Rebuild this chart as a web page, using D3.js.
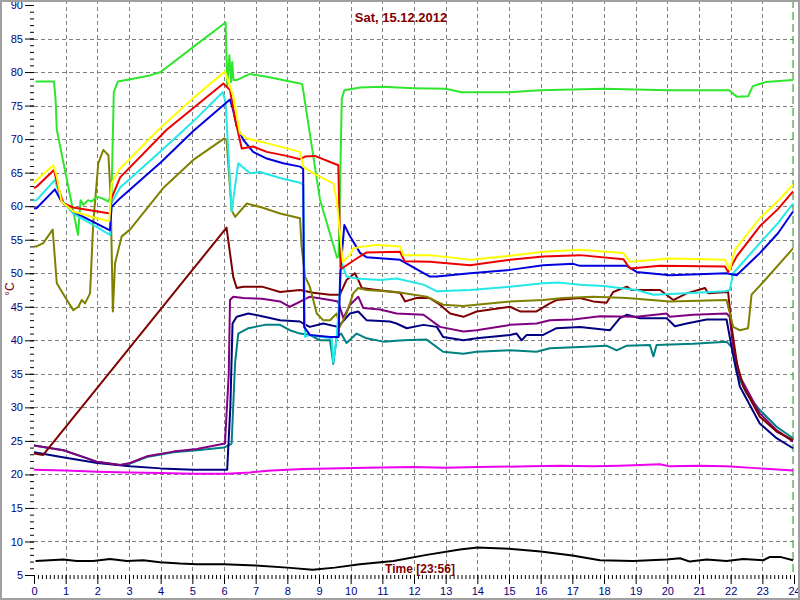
<!DOCTYPE html>
<html><head><meta charset="utf-8">
<script src="https://cdn.jsdelivr.net/npm/d3@7/dist/d3.min.js"></script>
<style>
html,body{margin:0;padding:0;background:#fff;}
svg{display:block;font-family:"Liberation Sans",Arial,sans-serif;}
</style></head>
<body><svg id="c" width="800" height="600"></svg>
<script>
const titleText = "Sat, 15.12.2012";
const timeLabel = "Time [23:56]";
const yLabel = "°C";
const cursorHour = 23.97;
const xTickValues = d3.range(0, 25, 1);
const yTickValues = d3.range(5, 91, 5);

const green = [[0.05,78.6],[0.63,78.6],[0.68,76],[0.72,71.4],[1.39,55.7],[1.47,60.9],[1.56,60.2],[1.71,60.9],[1.82,60.7],[1.98,61.4],[2.14,61.2],[2.35,60.7],[2.45,62],[2.52,77],[2.65,78.6],[3.0,78.9],[3.66,79.5],[4.0,80],[5.24,84.5],[6.05,87.4],[6.1,78],[6.17,82.5],[6.22,78.5],[6.26,81.5],[6.3,78.8],[6.4,78.8],[6.8,79.7],[7.35,79.3],[8.4,78.3],[8.47,78.2],[9.03,61],[9.57,52.3],[9.62,52.5],[9.72,76],[9.8,77.3],[10.3,77.7],[11,77.8],[12,77.6],[13,77.5],[13.5,77],[15,77],[16,77.3],[17,77.4],[18,77.5],[19,77.4],[20,77.3],[21,77.3],[21.95,77.3],[22.2,76.3],[22.55,76.4],[22.7,77.9],[23.1,78.5],[23.97,78.8]];
const yellow = [[0,63.5],[0.08,63.9],[0.61,66.1],[0.72,64.4],[0.87,60.7],[1.24,59.2],[1.98,58.2],[2.38,57.8],[2.45,63.4],[2.7,65.5],[3.93,71.4],[5,76],[6.03,80.1],[6.3,76.3],[6.5,70.9],[6.72,70.1],[7.35,69.4],[8.4,68.1],[8.5,65.9],[8.82,64.9],[9.45,63.4],[9.56,60.9],[9.75,51.7],[9.98,52.7],[10.08,53.7],[10.3,53.9],[10.82,54.2],[11.56,54],[11.66,52.7],[12.5,52.7],[13.77,52],[14.82,52.5],[16.08,53.2],[17.24,53.5],[18.61,53],[18.82,51.7],[20.08,52.2],[21.82,52],[21.97,50.5],[22.13,53.5],[22.92,58.2],[23.5,60.8],[23.97,63.2]];
const red = [[0,62.7],[0.08,62.9],[0.63,65.4],[0.77,62.7],[0.93,60.4],[1.24,59.8],[2.4,58.9],[2.45,61.2],[2.72,64.3],[4.19,71.4],[5.98,78.3],[6.19,77.3],[6.35,73],[6.56,68.6],[6.92,68.9],[7.35,68.1],[7.98,67.5],[8.4,67],[8.56,67.4],[8.87,67.5],[9.61,66.1],[9.68,51],[9.72,50.7],[10.19,52.2],[10.5,53.1],[11.56,53.2],[11.7,51.8],[12.5,51.7],[13.77,51.2],[15.03,52],[16.08,52.5],[17.24,52.7],[18.61,52.1],[18.82,50.7],[19.77,51.1],[21.82,51],[21.92,50.2],[22.19,52.5],[22.92,57],[23.5,59.6],[23.97,62.2]];
const cyan = [[0,60.8],[0.08,60.9],[0.66,63.9],[0.87,60.9],[1.24,58.9],[1.98,56.9],[2.4,55.7],[2.45,60.5],[2.72,62.8],[4,68.2],[5,72.5],[5.96,77],[6.05,75.5],[6.24,59.2],[6.45,66.4],[6.82,64.9],[7.14,65.1],[7.77,64.2],[8.4,63.5],[8.5,63.2],[8.56,40.5],[8.71,40.8],[9.13,40.5],[9.4,40.3],[9.45,36.7],[9.55,40],[9.72,51.5],[9.87,49.5],[10.19,49.2],[10.93,49],[11.45,49.2],[12.3,48.3],[12.72,47.3],[13.77,47.5],[15.03,48],[16.08,48.5],[16.6,48.6],[17.24,48.3],[17.98,48.1],[19.03,47.5],[19.56,46.8],[20.61,47],[21.82,47.3],[21.97,47.5],[22.08,50],[22.92,54.5],[23.5,57.5],[23.97,60.4]];
const blue = [[0,59.7],[0.08,59.7],[0.66,62.5],[0.87,60.7],[1.24,59.2],[1.98,57.4],[2.4,56.4],[2.45,59.9],[2.72,61.2],[4,66.5],[5.03,71.2],[6.19,75.9],[6.29,74.3],[6.4,71.9],[6.61,69.9],[6.92,68.1],[7.35,67.1],[7.87,66.4],[8.4,65.9],[8.5,65.6],[8.53,42],[8.71,40.8],[9.35,40.5],[9.62,40.5],[9.67,50],[9.8,57.2],[9.98,55.5],[10.3,53],[10.5,52.4],[11.56,52],[12.5,49.5],[12.72,49.5],[13.77,50],[15.03,50.5],[16.08,51.2],[17.03,51.4],[17.24,51.1],[18.72,51.1],[19.03,50.2],[20.08,49.7],[21.87,50],[22.19,49.7],[22.92,53],[23.5,56],[23.97,59.2]];
const olive = [[0,54],[0.08,54],[0.29,54.5],[0.59,56.5],[0.72,48.5],[1.0,46.3],[1.24,44.5],[1.4,45],[1.51,46],[1.61,45.5],[1.77,47],[1.87,57.4],[2.03,66.4],[2.19,68.4],[2.35,67.6],[2.42,61.4],[2.49,44.3],[2.56,51.5],[2.77,55.5],[3.03,56.5],[4.08,62.7],[5.03,66.9],[6.01,70.1],[6.08,69.9],[6.24,59.4],[6.35,58.4],[6.72,60.4],[7.2,59.8],[7.77,58.9],[8.4,58.2],[8.45,54],[8.56,49.5],[8.71,48],[8.93,44],[9.13,43],[9.35,43],[9.56,44],[9.66,42],[9.87,44],[10.08,47],[10.24,47.8],[10.5,47.5],[11.45,47.2],[12.4,46.5],[12.92,45.3],[13.56,45.1],[15.03,45.8],[16.08,46],[16.71,46.3],[17.66,46.5],[18.72,46.3],[20.08,45.8],[21.87,46],[22.08,42],[22.29,41.5],[22.55,41.8],[22.66,46.8],[23.03,48.7],[23.97,53.7]];
const maroon = [[0,23.1],[0.29,22.9],[6.08,56.8],[6.29,49.5],[6.4,47.8],[6.61,48],[7.2,48],[7.77,47.2],[8.4,47.5],[8.82,47.1],[9.35,46.8],[9.66,46.8],[9.87,49],[10.13,50],[10.24,49],[10.35,47.8],[10.82,47.5],[11.56,47.1],[11.72,45.8],[12.08,46.3],[12.5,46.3],[12.82,45.3],[13.14,44],[13.56,43.5],[13.98,44.3],[15.03,45],[15.35,44.3],[15.87,44.3],[16.29,45.5],[16.5,46],[17.24,46.3],[17.66,45.8],[18.08,45.6],[18.29,47.2],[18.72,48],[18.87,47.5],[19.77,47.5],[20.19,46],[20.61,47],[21.19,47.8],[21.29,47],[21.92,47.2],[22.03,42],[22.2,36.5],[22.4,33.1],[22.92,28.6],[23.45,26.4],[23.97,25.1]];
const purple = [[0,24.3],[0.93,23.6],[1.98,21.9],[2.72,21.4],[3.03,21.7],[3.56,22.7],[4.4,23.4],[5.14,23.8],[6.03,24.6],[6.15,35],[6.19,46],[6.29,46.5],[6.61,46.3],[7.2,46.2],[7.77,45.8],[8.08,45],[8.5,46],[8.71,46.5],[9.35,46],[9.6,45.8],[9.77,43.3],[9.98,45.3],[10.24,46.5],[10.4,44.8],[10.93,44.6],[11.45,44],[12.3,43.8],[12.82,42],[13.56,41.3],[13.98,41.5],[15.03,42.3],[15.87,42.5],[16.29,43],[17.03,43.1],[17.87,43.6],[19.03,43.5],[19.98,44],[20.08,43.5],[20.82,43.8],[21.87,44],[21.97,43.5],[22.08,39],[22.29,34.6],[22.92,29.1],[23.45,26.6],[23.97,24.9]];
const navy = [[0,23.3],[1,22.5],[2,21.7],[3.03,21.2],[4,20.9],[5.03,20.7],[6.1,20.7],[6.2,30],[6.27,42.5],[6.4,43.5],[6.77,44],[7.2,43.6],[7.77,43],[8.4,42.8],[8.5,42.5],[8.71,42],[9.13,42.5],[9.6,42],[9.98,44],[10.24,44.3],[10.5,43],[11.24,42.8],[11.45,42.5],[11.77,41.8],[12.3,42.3],[12.72,42],[12.92,40.5],[13.56,40],[13.98,40.3],[15.03,40.8],[15.24,41],[15.4,40],[15.56,40.8],[16.08,40.8],[16.5,41.8],[17.24,42],[18.19,41.5],[18.5,43.3],[18.72,43.8],[19.14,43.3],[19.98,43.3],[20.24,42.1],[20.61,42.5],[21.24,43.1],[21.87,43.1],[22.03,39],[22.29,33.1],[22.92,27.6],[23.45,25.4],[23.97,23.9]];
const teal = [[0,24.3],[0.93,23.6],[1.98,21.9],[2.72,21.4],[3.03,21.6],[3.56,22.6],[4.4,23.3],[5.14,23.6],[6.0,24],[6.24,24.6],[6.35,36.6],[6.45,41],[6.77,41.8],[7.3,42.3],[7.77,42.3],[8.08,41.5],[8.4,41],[8.71,40.8],[9.03,40],[9.35,40],[9.45,36.5],[9.56,40.5],[9.7,41],[9.87,39.6],[10.19,41],[10.5,40.3],[11.03,39.8],[11.66,40],[12.4,40.1],[12.92,38.3],[13.56,38],[13.98,38.3],[15.03,38.5],[15.87,38.3],[16.29,38.8],[17.24,39],[18.08,39.2],[18.4,38.5],[18.72,39.2],[19.45,39.3],[19.56,37.6],[19.66,39.3],[20.82,39.5],[21.87,39.8],[22.03,39],[22.19,35.1],[22.5,32.1],[22.92,29.6],[23.45,27.1],[23.97,25.4]];
const magenta = [[0,20.7],[1,20.6],[2,20.4],[3,20.3],[4,20.2],[5,20.1],[6.08,20.1],[6.82,20.3],[7.5,20.6],[8.5,20.8],[9.35,20.9],[10.5,21],[11.98,21.1],[13,21],[14,21.1],[15.66,21.2],[16.6,21.3],[17.66,21.2],[18.5,21.3],[19.77,21.5],[20.08,21.2],[21,21.3],[21.87,21.2],[22.92,20.9],[23.97,20.6]];
const black = [[0.05,7.1],[0.5,7.2],[0.93,7.3],[1.35,7.1],[1.87,7.1],[2.4,7.4],[2.93,7.1],[3.45,7.2],[3.98,6.9],[4.61,6.7],[5.14,6.6],[6,6.6],[7,6.4],[8,6.1],[8.8,5.8],[9.5,6.1],[10.29,6.6],[11.35,7.1],[12.4,8],[13.45,8.8],[14,9.1],[15,8.9],[16,8.5],[17,7.9],[17.87,7.2],[18.92,7.1],[19.98,7.3],[20.4,7.5],[20.71,7],[21.24,7.3],[21.87,7.1],[22.4,7.4],[23.03,7.2],[23.24,7.7],[23.56,7.7],[23.97,7.2]];

const seriesList = [
  {data: teal, color: "#008080"},
  {data: navy, color: "#000080"},
  {data: purple, color: "#800080"},
  {data: maroon, color: "#800000"},
  {data: olive, color: "#808000"},
  {data: magenta, color: "#ee00ee"},
  {data: black, color: "#000000"},
  {data: green, color: "#2ee62e"},
  {data: cyan, color: "#22e8e8"},
  {data: blue, color: "#0000e0"},
  {data: red, color: "#ee0000"},
  {data: yellow, color: "#ffff00"}
];

const svg = d3.select("#c");
const x = d3.scaleLinear().domain([0, 24]).range([34, 794]);
const y = d3.scaleLinear().domain([5, 90]).range([575, 5]);

// grid
const grid = svg.append("g").attr("stroke", "#808080").attr("stroke-dasharray", "4,3").attr("stroke-width", 1);
grid.selectAll("line.v").data(d3.range(1, 24)).enter().append("line")
  .attr("x1", d => Math.round(x(d)) + 0.5).attr("x2", d => Math.round(x(d)) + 0.5)
  .attr("y1", 0).attr("y2", 575);
grid.selectAll("line.h").data(d3.range(10, 90, 5)).enter().append("line")
  .attr("x1", 34).attr("x2", 793)
  .attr("y1", d => Math.round(y(d)) + 0.5).attr("y2", d => Math.round(y(d)) + 0.5);

// cursor line
svg.append("line").attr("x1", x(cursorHour)).attr("x2", x(cursorHour)).attr("y1", 0).attr("y2", 575)
  .attr("stroke", "#1a8a1a").attr("stroke-width", 1).attr("stroke-dasharray", "8,4");

// axes
const yMinor = d3.axisLeft(y).tickValues(d3.range(5, 91, 1)).tickSize(4).tickFormat("");
const yMajor = d3.axisLeft(y).tickValues(yTickValues).tickSize(9).tickPadding(2);
const xMinor = d3.axisBottom(x).tickValues(d3.range(0, 24.01, 0.125)).tickSize(4).tickFormat("");
const xMajor = d3.axisBottom(x).tickValues(xTickValues).tickSize(9).tickPadding(3);

function styleAxis(g) {
  g.select(".domain").remove();
  g.selectAll("line").attr("stroke", "#000");
  g.selectAll("text").attr("fill", "#000080").attr("font-size", "11px").attr("font-family", '"Liberation Sans",Arial,sans-serif');
}
svg.append("g").attr("transform", "translate(34,0)").call(yMinor).call(styleAxis);
svg.append("g").attr("transform", "translate(34,0)").call(yMajor).call(styleAxis);
svg.append("g").attr("transform", "translate(0,575)").call(xMinor).call(styleAxis);
svg.append("g").attr("transform", "translate(0,575)").call(xMajor).call(styleAxis);

// series
const line = d3.line().x(d => x(d[0])).y(d => y(d[1]));
svg.append("g").selectAll("path").data(seriesList).enter().append("path")
  .attr("d", d => line(d.data)).attr("fill", "none")
  .attr("stroke", d => d.color).attr("stroke-width", 2).attr("stroke-linejoin", "round");

// texts
svg.append("text").attr("x", 401).attr("y", 22).attr("text-anchor", "middle")
  .attr("font-size", "13px").attr("font-weight", "bold").attr("fill", "#800000").text(titleText);
svg.append("text").attr("x", 420).attr("y", 573).attr("text-anchor", "middle")
  .attr("font-size", "12px").attr("font-weight", "bold").attr("fill", "#800000").text(timeLabel);
svg.append("text").attr("transform", "translate(14,289) rotate(-90)").attr("text-anchor", "middle")
  .attr("font-size", "12px").attr("fill", "#800000").text(yLabel);

// frame
svg.append("rect").attr("x", 1).attr("y", 1).attr("width", 798).attr("height", 598)
  .attr("fill", "none").attr("stroke", "#a0a0a0").attr("stroke-width", 2);
</script></body></html>
